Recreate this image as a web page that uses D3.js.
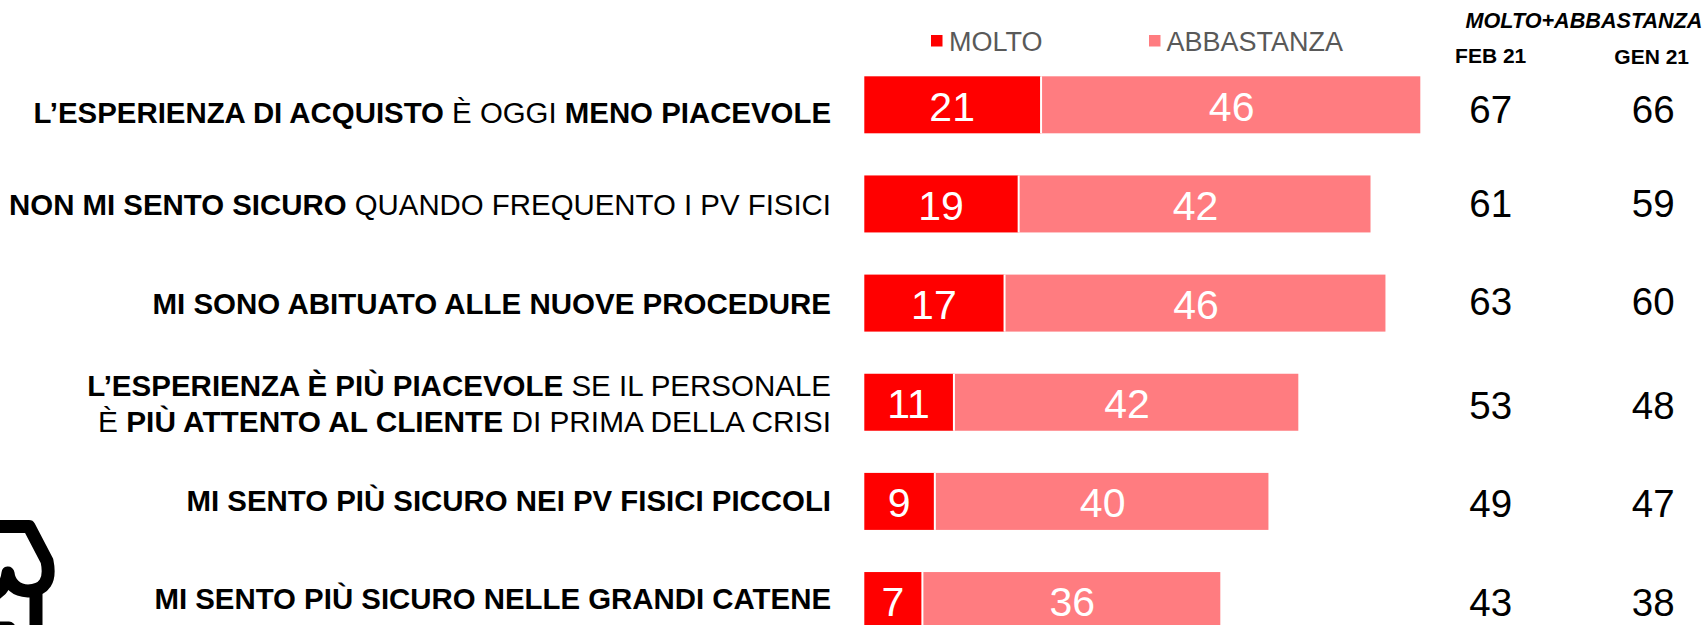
<!DOCTYPE html>
<html lang="it">
<head>
  <meta charset="UTF-8">
  <title>Esperienza di acquisto</title>
  <script src="https://d3js.org/d3.v7.min.js"></script>
  <style>
    html, body { margin: 0; padding: 0; background: #fff; overflow: hidden; }
    svg { display: block; font-family: "Liberation Sans", Arial, sans-serif; }
  </style>
</head>
<body>
<svg width="1708" height="625"></svg>
<script>
const rows = [
  [["L’ESPERIENZA DI ACQUISTO", 1], [" È OGGI ", 0], ["MENO PIACEVOLE", 1]],
  [["NON MI SENTO SICURO", 1], [" QUANDO FREQUENTO I PV FISICI", 0]],
  [["MI SONO ABITUATO ALLE NUOVE PROCEDURE", 1]],
  [["L’ESPERIENZA È PIÙ PIACEVOLE", 1], [" SE IL PERSONALE", 0]],
  [["MI SENTO PIÙ SICURO NEI PV FISICI PICCOLI", 1]],
  [["MI SENTO PIÙ SICURO NELLE GRANDI CATENE", 1]]
];
// seconda riga della quarta etichetta
const secondLine = [["È ", 0], ["PIÙ ATTENTO AL CLIENTE", 1], [" DI PRIMA DELLA CRISI", 0]];

const molto = [21.3, 18.6, 16.9, 10.8, 8.5, 7.0];
const abbastanza = [45.7, 42.4, 45.9, 41.5, 40.2, 35.9];
const feb21 = [67, 61, 63, 53, 49, 43];
const gen21 = [66, 59, 60, 48, 47, 38];

const svg = d3.select("svg");

const x = d3.scaleLinear().domain([0, 67]).range([864.3, 1420.3]);
const y = d3.scaleBand().domain(d3.range(6))
  .range([76.3, 629.05]).paddingInner(0.4251);
const cy = i => y(i) + y.bandwidth() / 2;

const colors = { molto: "#ff0000", abbastanza: "#ff7c80" };

// barre
const bars = svg.append("g").selectAll("g").data(d3.range(6)).join("g");
bars.append("rect")
  .attr("x", i => x(0))
  .attr("y", i => y(i))
  .attr("width", i => x(molto[i]) - x(0))
  .attr("height", y.bandwidth())
  .attr("fill", colors.molto);
bars.append("rect")
  .attr("x", i => x(molto[i]))
  .attr("y", i => y(i))
  .attr("width", i => x(molto[i] + abbastanza[i]) - x(molto[i]))
  .attr("height", y.bandwidth())
  .attr("fill", colors.abbastanza);
bars.append("line")
  .attr("x1", i => x(molto[i])).attr("x2", i => x(molto[i]))
  .attr("y1", i => y(i)).attr("y2", i => y(i) + y.bandwidth())
  .attr("stroke", "#fff").attr("stroke-width", 2);

bars.append("text")
  .attr("x", i => x(molto[i] / 2) - 0.5)
  .attr("y", i => cy(i) + 1)
  .attr("dy", "0.36em")
  .attr("text-anchor", "middle")
  .attr("fill", "#fff")
  .attr("font-size", 41)
  .text(i => Math.round(molto[i]));
bars.append("text")
  .attr("x", i => x(molto[i] + abbastanza[i] / 2) + 1)
  .attr("y", i => cy(i) + 1)
  .attr("dy", "0.36em")
  .attr("text-anchor", "middle")
  .attr("fill", "#fff")
  .attr("font-size", 41)
  .text(i => Math.round(abbastanza[i]));

// etichette a sinistra, non sono centrate tutte allo stesso modo sulla barra
const labelShift = [7.7, 0.8, 0.6, -17.2, -1, -2.5];
function label(parts, yPos, size) {
  const t = svg.append("text")
    .attr("x", 831)
    .attr("y", yPos)
    .attr("dy", "0.36em")
    .attr("text-anchor", "end")
    .attr("fill", "#000")
    .attr("font-size", size)
    .style("white-space", "pre");
  parts.forEach(p => {
    t.append("tspan").attr("font-weight", p[1] ? "bold" : "normal").text(p[0]);
  });
}
rows.forEach((parts, i) => {
  label(parts, cy(i) + labelShift[i], i === 2 || i === 3 ? 29.5 : 29.4);
  if (i === 3) label(secondLine, cy(i) + 19.5, 29.8);
});

// colonne a destra
const colFeb = 1490.7, colGen = 1651.7;
const numShift = [4, -0.9, -1.7, 2.5, 1.5, 2];
[[feb21, colFeb], [gen21, colGen + 1.5]].forEach(([vals, cx]) => {
  svg.append("g").selectAll("text").data(vals).join("text")
    .attr("x", cx)
    .attr("y", (d, i) => cy(i) + numShift[i])
    .attr("dy", "0.36em")
    .attr("text-anchor", "middle")
    .attr("fill", "#000")
    .attr("font-size", 38.5)
    .text(d => d);
});

svg.append("text").attr("x", 1584).attr("y", 20).attr("dy", "0.36em")
  .attr("text-anchor", "middle").attr("font-size", 21.6)
  .attr("font-weight", "bold").attr("font-style", "italic")
  .text("MOLTO+ABBASTANZA");
svg.append("text").attr("x", colFeb).attr("y", 55).attr("dy", "0.36em")
  .attr("text-anchor", "middle").attr("font-size", 21).attr("font-weight", "bold")
  .text("FEB 21");
svg.append("text").attr("x", colGen).attr("y", 56).attr("dy", "0.36em")
  .attr("text-anchor", "middle").attr("font-size", 21).attr("font-weight", "bold")
  .text("GEN 21");

// legenda
[["MOLTO", colors.molto, 931, 949], ["ABBASTANZA", colors.abbastanza, 1149, 1166.5]].forEach(([name, col, lx, tx]) => {
  svg.append("rect").attr("x", lx).attr("y", 35).attr("width", 11.5).attr("height", 11.5).attr("fill", col);
  svg.append("text").attr("x", tx).attr("y", 41).attr("dy", "0.36em")
    .attr("font-size", 27).attr("fill", "#595959").text(name);
});

// icona negozio, tagliata dal bordo
svg.append("path")
  .attr("d", "M-10,526.5 L29,526.5 L47,561 Q53,590 28,591 Q10,590 8,573 Q6,590 -10,597 M36,592 L36,632 M-10,628 L9,628")
  .attr("fill", "none").attr("stroke", "#000").attr("stroke-width", 13)
  .attr("stroke-linejoin", "round").attr("stroke-linecap", "round");
</script>
</body>
</html>
